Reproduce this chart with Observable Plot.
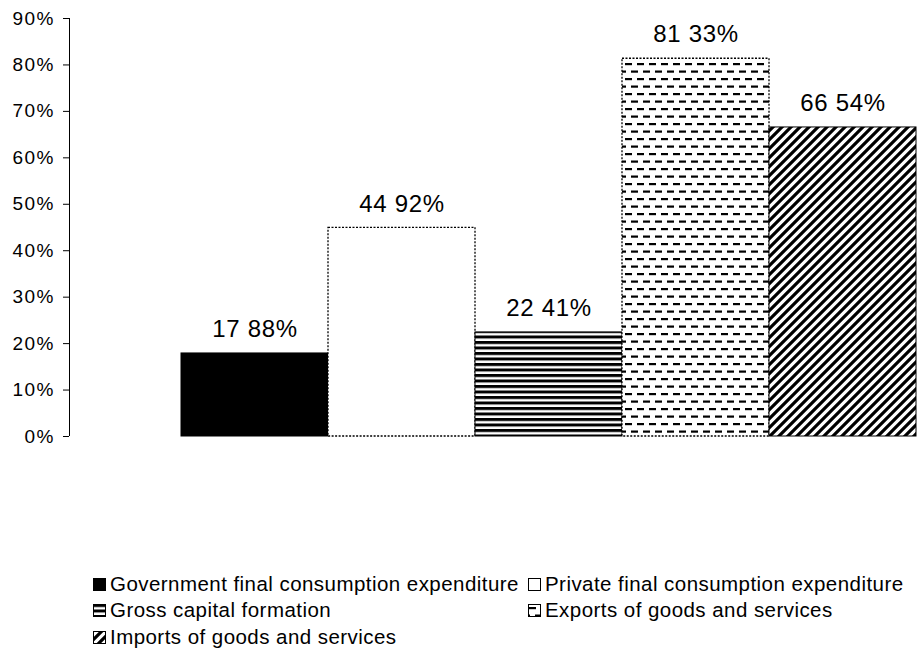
<!DOCTYPE html>
<html>
<head>
<meta charset="utf-8">
<script src="https://cdn.jsdelivr.net/npm/d3@7"></script>
<script src="https://cdn.jsdelivr.net/npm/@observablehq/plot@0.6"></script>
<style>
  body { margin: 0; background: #fff; font-family: "Liberation Sans", Arial, sans-serif; }
  #chart svg { display: block; }
  #chart g[aria-label="y-axis tick label"] text { letter-spacing: 1.5px; }
  #chart g[aria-label="text"] text { letter-spacing: 0.7px; }
  #legend { position: relative; width: 917px; height: 206px; }
  .item { position: absolute; display: flex; align-items: center; color: #000; white-space: nowrap; }
  .item svg { position: absolute; left: 0; }
  .item span { position: absolute; font-size: 20.5px; letter-spacing: 0.45px; line-height: 22px; }
</style>
</head>
<body>
<svg width="0" height="0" style="position:absolute">
  <defs>
    <pattern id="p0" patternUnits="userSpaceOnUse" width="4" height="4"><rect width="4" height="4" fill="#000"/></pattern>
    <pattern id="p1" patternUnits="userSpaceOnUse" width="4" height="4"><rect width="4" height="4" fill="#fff"/></pattern>
    <pattern id="p2" patternUnits="userSpaceOnUse" width="8" height="5.5"><rect width="8" height="5.5" fill="#fff"/><rect y="0" width="8" height="3" fill="#000"/></pattern>
    <pattern id="p3" patternUnits="userSpaceOnUse" width="12" height="15"><rect width="12" height="15" fill="#fff"/><rect x="1" y="3" width="7" height="2.2" fill="#000"/><rect x="7" y="10.5" width="7" height="2.2" fill="#000"/><rect x="-5" y="10.5" width="7" height="2.2" fill="#000"/></pattern>
    <pattern id="p4" patternUnits="userSpaceOnUse" width="9" height="9"><rect width="9" height="9" fill="#fff"/><path d="M-2,2 L2,-2 M0,9 L9,0 M7,11 L11,7" stroke="#000" stroke-width="3.2"/></pattern>
  </defs>
</svg>
<div id="chart"></div>
<div id="legend"></div>
<script>
const categories = [
  "Government final consumption expenditure",
  "Private final consumption expenditure",
  "Gross capital formation",
  "Exports of goods and services",
  "Imports of goods and services"
];
const values = [17.88, 44.92, 22.41, 81.33, 66.54];
const valueLabels = ["17 88%", "44 92%", "22 41%", "81 33%", "66 54%"];
const patternIds = ["p0", "p1", "p2", "p3", "p4"];
const yTicks = [0, 10, 20, 30, 40, 50, 60, 70, 80, 90];

const data = categories.map((c, i) => ({cat: c, value: values[i], label: valueLabels[i], i}));

const W = 917, H = 460;
const font = "Liberation Sans, Arial, sans-serif";

const barMarks = data.map((d, i) => Plot.barY([d], {
  x: "cat", y: "value",
  fill: `url(#${patternIds[i]})`,
  stroke: "#000",
  strokeWidth: (i === 1 || i === 3) ? 1.3 : 1,
  strokeDasharray: (i === 1 || i === 3) ? "2,1.5" : null
}));

const axisLine = (index, scales, values, dimensions) => {
  const g = d3.create("svg:line")
    .attr("x1", dimensions.marginLeft + 0.5).attr("x2", dimensions.marginLeft + 0.5)
    .attr("y1", scales.y(90)).attr("y2", scales.y(0))
    .attr("stroke", "#000").attr("stroke-width", 1);
  return g.node();
};

const chart = Plot.plot({
  width: W,
  height: H,
  marginLeft: 69,
  marginRight: 0,
  marginTop: 18,
  marginBottom: 24,
  style: {fontFamily: font, background: "#fff", color: "#000"},
  x: {domain: categories, range: [179, 917], padding: 0, axis: null},
  y: {domain: [0, 90], axis: null, label: null},
  marks: [
    ...barMarks,
    Plot.text(data, {x: "cat", y: "value", text: "label", dy: -24, fontSize: 24, fill: "#000", fontFamily: font}),
    Plot.axisY({ticks: yTicks, tickFormat: d => d + "%", tickSize: 6, tickPadding: 8.5, fontSize: 19, anchor: "left", label: null}),
    axisLine
  ]
});
document.getElementById("chart").appendChild(chart);

// Legend (two columns, three rows)
const legendPos = [
  {x: 93, y: 124}, {x: 528, y: 124},
  {x: 93, y: 150}, {x: 528, y: 150},
  {x: 93, y: 177}
];
const legend = document.getElementById("legend");
categories.forEach((c, i) => {
  const item = document.createElement("div");
  item.className = "item";
  item.style.left = legendPos[i].x + "px";
  item.style.top = (legendPos[i].y - 11) + "px";
  item.style.height = "22px";
  item.innerHTML = `<svg width="13" height="13" style="top:5px"><rect x="0.5" y="0.5" width="12" height="12" fill="url(#${patternIds[i]})" stroke="#000" stroke-width="1"/></svg><span style="left:17px;top:0">${c}</span>`;
  legend.appendChild(item);
});
</script>
</body>
</html>
